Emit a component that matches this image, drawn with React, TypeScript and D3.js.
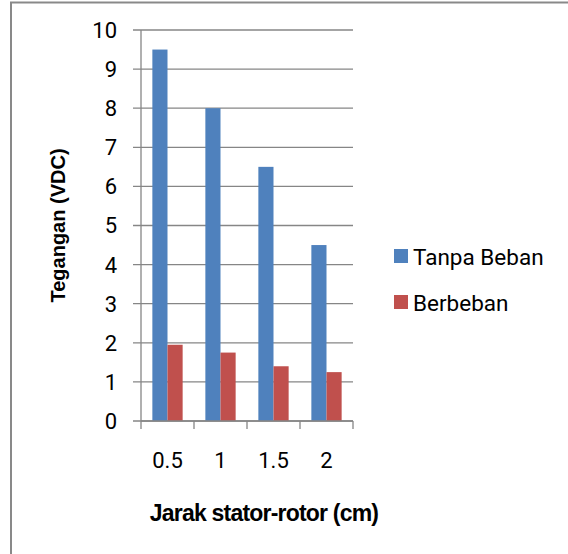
import React from "react";
import * as d3 from "d3";

// Distance between stator and rotor (cm)
const categories = ["0.5", "1", "1.5", "2"];
// Output voltage (VDC) per series
const tanpaBeban = [9.5, 8, 6.5, 4.5];
const berbeban = [1.95, 1.75, 1.4, 1.25];
const seriesNames = ["Tanpa Beban", "Berbeban"];
const seriesColors = ["#4F81BD", "#C0504D"];
const yTicks = [0, 1, 2, 3, 4, 5, 6, 7, 8, 9, 10];

const W = 568;
const H = 554;
const plot = { left: 141, right: 353, top: 30, bottom: 421 };

export default function App() {
  const x = d3
    .scaleBand<string>()
    .domain(categories)
    .range([plot.left, plot.right])
    .paddingInner(0.4286)
    .paddingOuter(0.2143);
  const inner = d3
    .scaleBand<string>()
    .domain(seriesNames)
    .range([0, x.bandwidth()]);
  const y = d3.scaleLinear().domain([0, 10]).range([plot.bottom, plot.top]);
  const step = x.step();
  const series = [tanpaBeban, berbeban];
  const grid = "#868686";
  const tickFont = "Roboto, 'Liberation Sans', sans-serif";

  return (
    <svg
      width={W}
      height={H}
      style={{ position: "absolute", left: 0, top: 0, background: "#fff" }}
    >
      {/* outer frame */}
      <rect x={11} y={2.5} width={W + 10} height={H + 10} fill="none" stroke="#898989" strokeWidth={2} />

      {/* horizontal gridlines and y ticks */}
      {yTicks.map((t) => (
        <g key={t}>
          <line x1={plot.left - 8} x2={plot.right} y1={y(t)} y2={y(t)} stroke={grid} strokeWidth={1.3} />
          <text
            x={117}
            y={y(t)}
            dy="0.36em"
            textAnchor="end"
            fontFamily={tickFont}
            fontSize={22}
            fill="#000"
          >
            {t}
          </text>
        </g>
      ))}

      {/* bars */}
      {series.map((vals, si) =>
        vals.map((v, i) => (
          <rect
            key={`${si}-${i}`}
            x={(x(categories[i]) as number) + (inner(seriesNames[si]) as number)}
            y={y(v)}
            width={inner.bandwidth()}
            height={y(0) - y(v)}
            fill={seriesColors[si]}
          />
        ))
      )}

      {/* y axis line */}
      <line x1={plot.left} x2={plot.left} y1={plot.top} y2={plot.bottom} stroke={grid} strokeWidth={1.3} />
      {/* x axis line and category ticks */}
      <line x1={plot.left} x2={plot.right} y1={plot.bottom} y2={plot.bottom} stroke={grid} strokeWidth={1.3} />
      {d3.range(categories.length + 1).map((k) => (
        <line
          key={k}
          x1={plot.left + k * step}
          x2={plot.left + k * step}
          y1={plot.bottom}
          y2={plot.bottom + 8}
          stroke={grid}
          strokeWidth={1.3}
        />
      ))}
      {categories.map((c) => (
        <text
          key={c}
          x={(x(c) as number) + x.bandwidth() / 2}
          y={468}
          textAnchor="middle"
          fontFamily={tickFont}
          fontSize={22}
          fill="#000"
        >
          {c}
        </text>
      ))}

      {/* axis titles */}
      <text
        x={264}
        y={521}
        textAnchor="middle"
        fontFamily="'Liberation Sans', Arial, sans-serif"
        fontWeight="bold"
        fontSize={23}
        letterSpacing={-0.8}
        fill="#000"
      >
        Jarak stator-rotor (cm)
      </text>
      <text
        transform={`translate(65,${(plot.top + plot.bottom) / 2}) rotate(-90)`}
        textAnchor="middle"
        fontFamily="'Liberation Sans', Arial, sans-serif"
        fontWeight="bold"
        fontSize={20}
        fill="#000"
      >
        Tegangan (VDC)
      </text>

      {/* legend */}
      {seriesNames.map((name, i) => (
        <g key={name} transform={`translate(394,${249 + i * 46})`}>
          <rect width={14} height={14} fill={seriesColors[i]} />
          <text x={19} y={16} fontFamily={tickFont} fontSize={22.5} fill="#000">
            {name}
          </text>
        </g>
      ))}
    </svg>
  );
}
